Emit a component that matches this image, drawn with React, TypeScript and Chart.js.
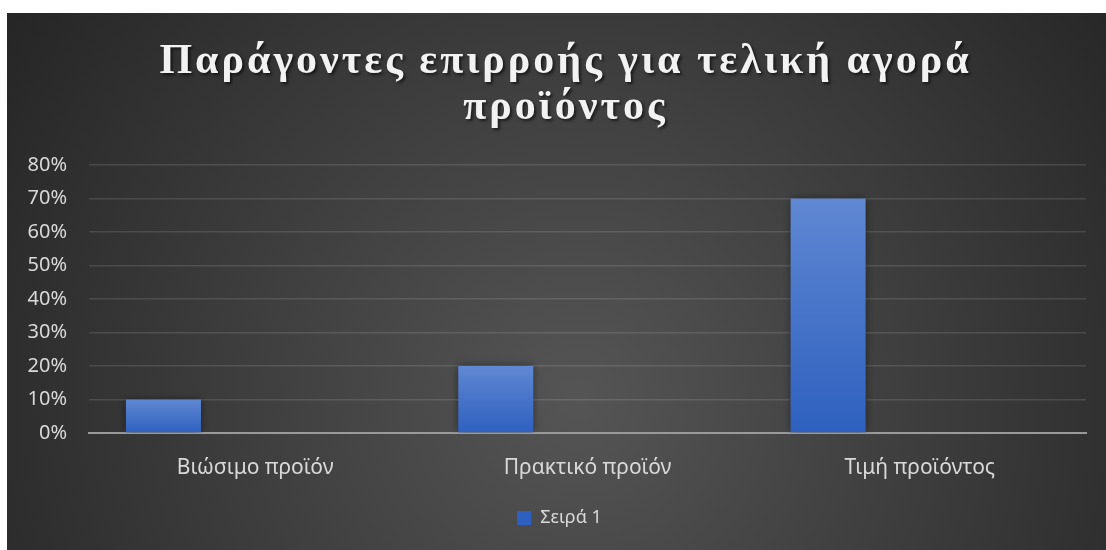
import React, { useEffect, useRef } from "react";
import { Chart, registerables } from "chart.js";

Chart.register(...registerables);

const categories = ["Βιώσιμο προϊόν", "Πρακτικό προϊόν", "Τιμή προϊόντος"];
const series1 = [0.1, 0.2, 0.7];
const series2: (number | null)[] = [null, null, null];
const series3: (number | null)[] = [null, null, null];
const seriesNames = ["Σειρά 1", "Σειρά 2", "Σειρά 3"];
const yMin = 0;
const yMax = 0.8;
const yStep = 0.1;
const titleLines = ["Παράγοντες επιρροής για τελική αγορά", "προϊόντος"];

const W = 1099;
const H = 537;

const barFill = (ctx: any) => {
  const chart = ctx.chart;
  if (ctx.type !== "data" || !chart.chartArea || ctx.raw == null) return "#3d6cc6";
  const y = chart.scales.y;
  const top = y.getPixelForValue(ctx.raw);
  const bottom = y.getPixelForValue(0);
  const g = chart.ctx.createLinearGradient(0, top, 0, bottom);
  g.addColorStop(0, "#6088d3");
  g.addColorStop(1, "#2e60bf");
  return g;
};

const bgPlugin = {
  id: "bgPlugin",
  beforeDraw(chart: any) {
    const c = chart.ctx;
    const w = chart.width;
    const h = chart.height;
    c.save();
    const g = c.createRadialGradient(w * 0.52, h * 0.72, 0, w * 0.52, h * 0.72, w * 0.62);
    g.addColorStop(0, "#555555");
    g.addColorStop(1, "#262626");
    c.fillStyle = g;
    c.fillRect(0, 0, w, h);
    c.restore();
  },
};

const legendShiftPlugin = {
  id: "legendShift",
  afterLayout(chart: any) {
    const lg = chart.legend;
    if (lg) {
      lg.left += 13;
      lg.right += 13;
    }
  },
};

const titlePlugin = {
  id: "titlePlugin",
  afterDraw(chart: any) {
    const c = chart.ctx;
    const lines: string[] = chart.options.plugins.customTitle.text;
    c.save();
    c.font = "bold 42px 'Liberation Serif', 'DejaVu Serif', serif";
    (c as any).letterSpacing = "3px";
    c.textAlign = "center";
    c.textBaseline = "alphabetic";
    c.fillStyle = "#f2f2f2";
    c.shadowColor = "rgba(0,0,0,0.6)";
    c.shadowBlur = 3;
    c.shadowOffsetX = 2;
    c.shadowOffsetY = 2;
    const cx = chart.width / 2 + 9;
    lines.forEach((t, i) => c.fillText(t, cx, 60 + i * 46));
    c.restore();
  },
};

const shadowPlugin = {
  id: "shadowPlugin",
  beforeDatasetsDraw(chart: any) {
    const c = chart.ctx;
    c.save();
    c.shadowColor = "rgba(0,0,0,0.45)";
    c.shadowBlur = 8;
  },
  afterDatasetsDraw(chart: any) {
    chart.ctx.restore();
  },
};

export default function App() {
  const ref = useRef<HTMLCanvasElement | null>(null);
  useEffect(() => {
    if (!ref.current) return;
    const chart = new Chart(ref.current, {
      type: "bar",
      data: {
        labels: categories,
        datasets: [
          { label: seriesNames[0], data: series1, backgroundColor: barFill, borderWidth: 0 },
          { label: seriesNames[1], data: series2 as any, backgroundColor: "#ed7d31", borderWidth: 0 },
          { label: seriesNames[2], data: series3 as any, backgroundColor: "#a5a5a5", borderWidth: 0 },
        ],
      },
      options: {
        responsive: false,
        animation: false,
        categoryPercentage: 0.828,
        barPercentage: 0.818,
        layout: { padding: { top: 152, right: 20, bottom: 13, left: 0 } },
        plugins: {
          customTitle: { text: titleLines },
          title: { display: false },
          tooltip: { enabled: false },
          legend: {
            position: "bottom",
            labels: {
              filter: (item: any) => item.datasetIndex === 0,
              color: "#d9d9d9",
              boxWidth: 14,
              boxHeight: 14,
              padding: 10,
              font: { family: "'Noto Sans', sans-serif", size: 18 },
            },
          },
        } as any,
        scales: {
          x: {
            grid: { display: false },
            border: { display: true, color: "#9a9a9a", width: 2 },
            ticks: {
              color: "#d9d9d9",
              padding: 14,
              font: { family: "'Noto Sans', sans-serif", size: 21 },
            },
            afterFit: (s: any) => {
              s.height = 66;
            },
          },
          y: {
            min: yMin,
            max: yMax,
            grid: { color: "rgba(255,255,255,0.12)", lineWidth: 1.5, drawTicks: false },
            border: { display: false },
            ticks: {
              stepSize: yStep,
              color: "#d9d9d9",
              padding: 22,
              font: { family: "'Noto Sans', sans-serif", size: 20 },
              callback: (v: any) => Math.round(Number(v) * 100) + "%",
            },
            afterFit: (s: any) => {
              s.width = 82;
            },
          },
        },
      },
      plugins: [bgPlugin, legendShiftPlugin, shadowPlugin, titlePlugin],
    });
    return () => chart.destroy();
  }, []);

  return (
    <div style={{ position: "absolute", left: 0, top: 0, width: 1106, height: 550, background: "#ffffff" }}>
      <canvas ref={ref} width={W} height={H} style={{ position: "absolute", left: 7, top: 13, width: W, height: H }} />
    </div>
  );
}
